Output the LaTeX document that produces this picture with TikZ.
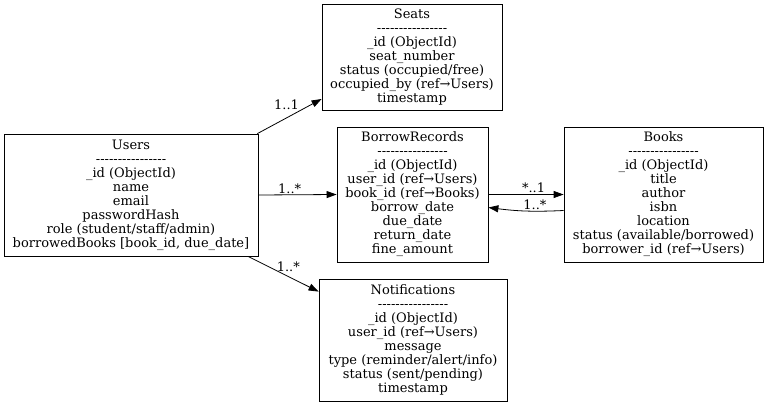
\documentclass[tikz,border=0pt]{standalone}
\usepackage{fontspec}
\setmainfont{DejaVu Serif}
\usetikzlibrary{arrows.meta,calc}
\newcommand\dashline{\mbox{-}\mbox{-}\mbox{-}\mbox{-}\mbox{-}\mbox{-}\mbox{-}\mbox{-}\mbox{-}\mbox{-}\mbox{-}\mbox{-}\mbox{-}\mbox{-}\mbox{-}\mbox{-}}
\begin{document}
\begin{tikzpicture}[x=1pt,y=-1pt,
  entity/.style={draw, line width=0.8pt, align=center, inner sep=0pt,
    font=\fontsize{13}{14}\selectfont},
  rel/.style={line width=0.8pt, -{Triangle[length=10pt,width=7pt]}},
  lbl/.style={font=\fontsize{13}{14}\selectfont, inner sep=1pt}]
\useasboundingbox (0,0) rectangle (768,404);
\node[entity, minimum width=254pt, minimum height=122pt] (users) at (131,195)
  {Users\\\dashline\\\_id (ObjectId)\\name\\email\\passwordHash\\role (student/staff/admin)\\borrowedBooks [book\_id, due\_date]};
\node[entity, minimum width=180pt, minimum height=106pt] (seats) at (412,57)
  {Seats\\\dashline\\\_id (ObjectId)\\seat\_number\\status (occupied/free)\\occupied\_by (ref→Users)\\timestamp};
\node[entity, minimum width=151pt, minimum height=135pt] (borrow) at (412.5,194.5)
  {BorrowRecords\\\dashline\\\_id (ObjectId)\\user\_id (ref→Users)\\book\_id (ref→Books)\\borrow\_date\\due\_date\\return\_date\\fine\_amount};
\node[entity, minimum width=199pt, minimum height=135pt] (books) at (663.5,194.5)
  {Books\\\dashline\\\_id (ObjectId)\\title\\author\\isbn\\location\\status (available/borrowed)\\borrower\_id (ref→Users)};
\node[entity, minimum width=188pt, minimum height=122pt] (notif) at (413,340)
  {Notifications\\\dashline\\\_id (ObjectId)\\user\_id (ref→Users)\\message\\type (reminder/alert/info)\\status (sent/pending)\\timestamp};
\draw[rel] ([xshift=-1pt]users.north east) -- node[lbl, pos=0.5, above=5pt, xshift=-3pt] {1..1} ([yshift=-42pt]seats.west);
\draw[rel] (users.east) -- node[lbl, pos=0.4, above] {1..*} (borrow.west);
\draw[rel] ([xshift=117pt]users.south) -- node[lbl, pos=0.5, above=1pt, xshift=5pt] {1..*} ([yshift=-13pt]notif.north west);
\draw[rel] (borrow.east) -- node[lbl, pos=0.6, above] {*..1} (books.west);
\draw[rel] ([yshift=-16pt]books.west) to[bend left=5] node[lbl, pos=0.37, above] {1..*} ([yshift=-13pt]borrow.east);
\end{tikzpicture}
\end{document}
